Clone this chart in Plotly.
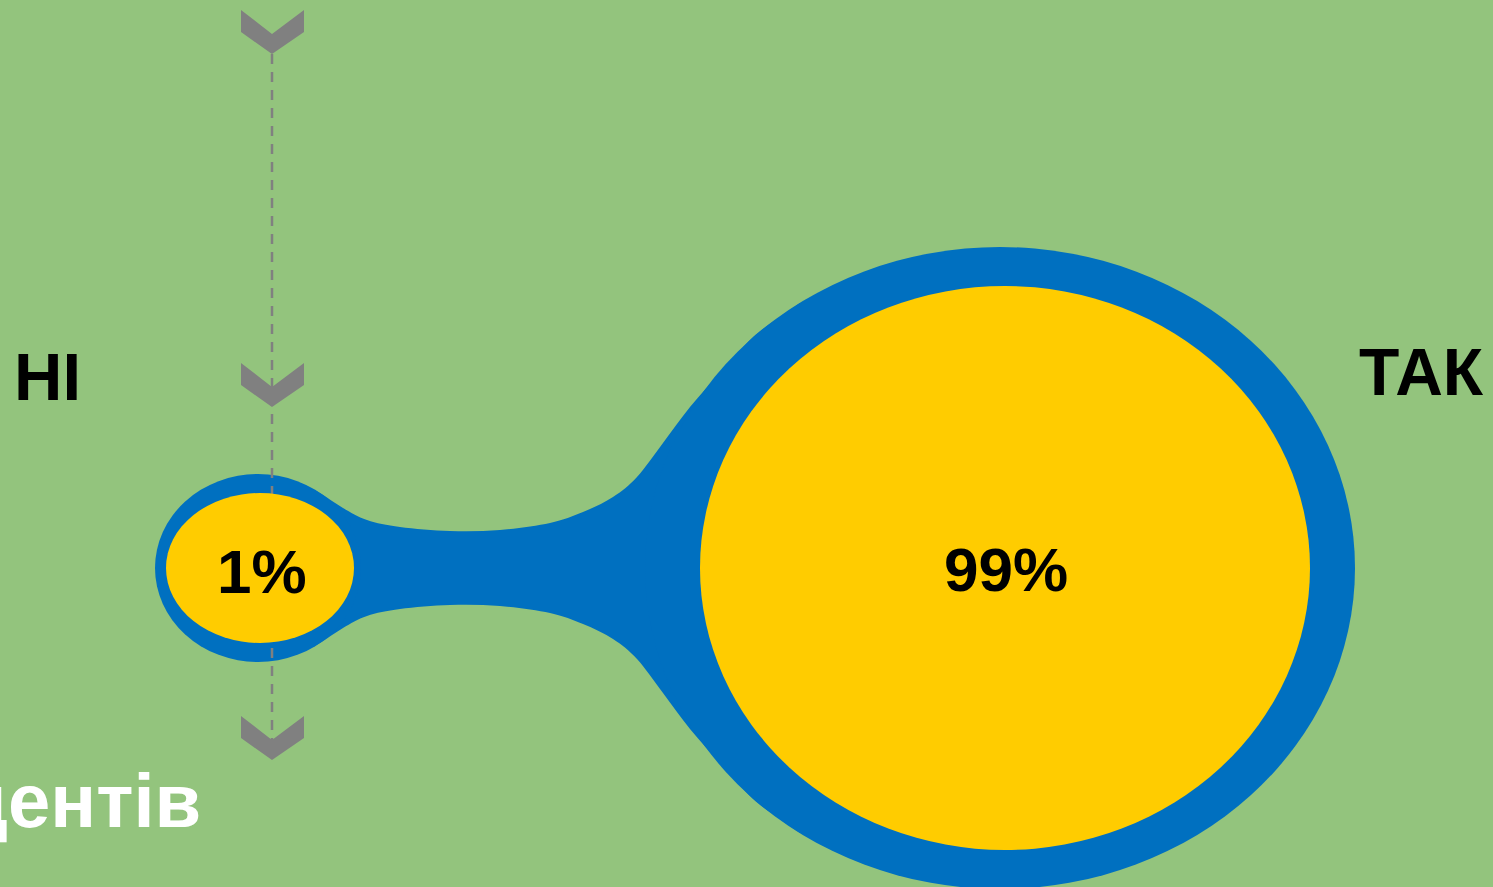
import plotly.graph_objects as go

# ---- data ----
answers = ["НІ", "ТАК"]
shares = [1, 99]
share_labels = [f"{v}%" for v in shares]
caption = "студентів"

# ---- styling / geometry (pixel space of the canvas) ----
W, H = 1493, 887
BG = "#93C47D"
BLUE = "#0070C0"
YELLOW = "#FFCC00"
GRAY = "#808080"
FONT = "Liberation Sans, Arial, sans-serif"

# outer (blue) and inner (yellow) ellipses: (cx, cy, rx, ry)
outer = [(258, 568, 103, 94), (1000, 568, 355, 321)]
inner = [(260, 568, 94, 75), (1005, 568, 305, 282)]
label_pos = [(262, 571), (1006, 569)]
AXIS_Y = 568

# upper outline of the neck (mirrored below the axis)
neck_top = [(300, 483), (320, 493), (343, 508), (367, 520), (400, 527), (450, 531),
            (500, 530), (550, 523), (583, 512), (613, 497), (637, 477), (663, 443),
            (690, 407), (720, 373), (753, 337), (780, 317), (800, 303)]


def smooth_path(pts):
    """Catmull-Rom through pts as cubic bezier segments (no initial M)."""
    out = []
    n = len(pts)
    for i in range(n - 1):
        p0 = pts[i - 1] if i > 0 else pts[i]
        p1, p2 = pts[i], pts[i + 1]
        p3 = pts[i + 2] if i + 2 < n else pts[i + 1]
        c1 = (p1[0] + (p2[0] - p0[0]) / 6, p1[1] + (p2[1] - p0[1]) / 6)
        c2 = (p2[0] - (p3[0] - p1[0]) / 6, p2[1] - (p3[1] - p1[1]) / 6)
        out.append(f"C {c1[0]:.1f},{c1[1]:.1f} {c2[0]:.1f},{c2[1]:.1f} {p2[0]},{p2[1]}")
    return " ".join(out)


neck_bot = [(x, 2 * AXIS_Y - y) for x, y in reversed(neck_top)]
neck = (f"M {neck_top[0][0]},{neck_top[0][1]} " + smooth_path(neck_top) +
        f" L {neck_bot[0][0]},{neck_bot[0][1]} " + smooth_path(neck_bot) + " Z")

shapes = [dict(type="path", path=neck, xref="x", yref="y",
               fillcolor=BLUE, line=dict(width=0))]
for cx, cy, rx, ry in outer:
    shapes.append(dict(type="circle", xref="x", yref="y",
                       x0=cx - rx, x1=cx + rx, y0=cy - ry, y1=cy + ry,
                       fillcolor=BLUE, line=dict(width=0)))

# dashed guide line
shapes.append(dict(type="line", xref="x", yref="y", x0=272, x1=272, y0=54, y1=740,
                   line=dict(color=GRAY, width=2.5, dash="10px,8px")))

for cx, cy, rx, ry in inner:
    shapes.append(dict(type="circle", xref="x", yref="y",
                       x0=cx - rx, x1=cx + rx, y0=cy - ry, y1=cy + ry,
                       fillcolor=YELLOW, line=dict(width=0)))

# chevrons
for top in [10, 363, 716]:
    p = (f"M 241,{top} L 272,{top + 24} L 304,{top} L 304,{top + 22} "
         f"L 272,{top + 44} L 241,{top + 22} Z")
    shapes.append(dict(type="path", path=p, xref="x", yref="y",
                       fillcolor=GRAY, line=dict(width=0)))

annotations = [
    dict(x=12, y=376, text=f"<b>{answers[0]}</b>", xanchor="left", yanchor="middle",
         showarrow=False, font=dict(family=FONT, size=67, color="black")),
    dict(x=1486, y=372, text=f"<b>{answers[1]}</b>", xanchor="right", yanchor="middle",
         showarrow=False, font=dict(family=FONT, size=66, color="black")),
    dict(x=203, y=800, text=f"<b>{caption}</b>", xanchor="right", yanchor="middle",
         showarrow=False, font=dict(family=FONT, size=76, color="white")),
]
for (x, y), lab in zip(label_pos, share_labels):
    annotations.append(dict(x=x, y=y, text=f"<b>{lab}</b>", xanchor="center",
                            yanchor="middle", showarrow=False,
                            font=dict(family=FONT, size=62, color="black")))

fig = go.Figure()
fig.update_layout(
    width=W, height=H,
    margin=dict(l=0, r=0, t=0, b=0),
    paper_bgcolor=BG, plot_bgcolor=BG,
    xaxis=dict(range=[0, W], visible=False, fixedrange=True),
    yaxis=dict(range=[H, 0], visible=False, fixedrange=True),
    shapes=shapes, annotations=annotations, showlegend=False,
)
fig.write_html(
    "out.html",
    config={"displayModeBar": False},
    post_script="document.body.style.margin='0';document.body.style.overflow='hidden';",
)
